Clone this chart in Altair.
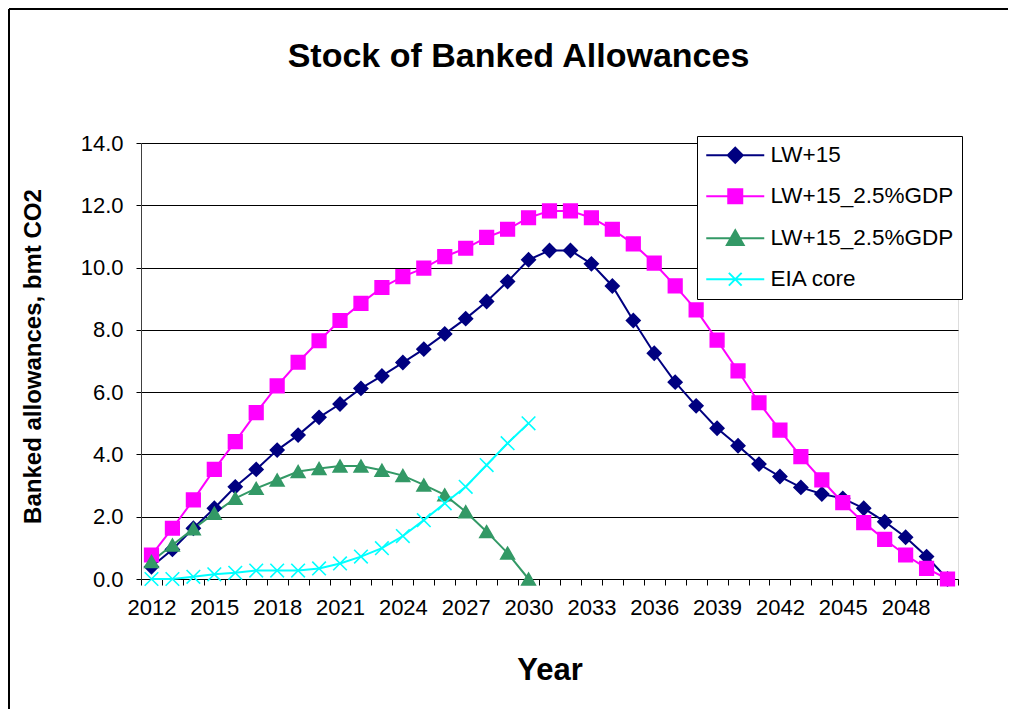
import altair as alt
import pandas as pd

# ---------------- data ----------------
years = list(range(2012, 2051))
series_keys = ["s1", "s2", "s3", "s4"]
series_labels = ["LW+15", "LW+15_2.5%GDP", "LW+15_2.5%GDP", "EIA core"]
series_colors = ["#000080", "#FF00FF", "#339966", "#00FFFF"]

lw15 = [0.39, 0.95, 1.63, 2.27, 2.96, 3.52, 4.14, 4.62, 5.19, 5.62,
        6.12, 6.52, 6.95, 7.38, 7.87, 8.36, 8.91, 9.55, 10.25, 10.55,
        10.55, 10.12, 9.41, 8.30, 7.25, 6.32, 5.56, 4.84, 4.28, 3.69,
        3.29, 2.94, 2.73, 2.59, 2.27, 1.84, 1.34, 0.72, 0.0]
lw15_gdp = [0.77, 1.63, 2.54, 3.52, 4.41, 5.34, 6.20, 6.96, 7.65, 8.30,
            8.85, 9.36, 9.71, 9.98, 10.35, 10.62, 10.97, 11.23, 11.60, 11.82,
            11.82, 11.60, 11.23, 10.76, 10.14, 9.41, 8.64, 7.67, 6.68, 5.66,
            4.78, 3.93, 3.18, 2.45, 1.81, 1.27, 0.77, 0.34, 0.0]
lw15_gdp_b = [0.56, 1.09, 1.61, 2.11, 2.59, 2.91, 3.18, 3.45, 3.55, 3.63,
              3.63, 3.49, 3.32, 3.02, 2.70, 2.16, 1.52, 0.83, 0.0]
eia_core = [0.0, 0.0, 0.07, 0.15, 0.20, 0.27, 0.27, 0.27, 0.34, 0.50,
            0.72, 0.99, 1.38, 1.89, 2.43, 2.96, 3.66, 4.36, 5.0]

y_ticks = [0, 2, 4, 6, 8, 10, 12, 14]

rows = []
for key, vals in zip(series_keys, [lw15, lw15_gdp, lw15_gdp_b, eia_core]):
    for yr, v in zip(years, vals):
        rows.append({"year": str(yr), "series": key, "value": v})
df = pd.DataFrame(rows)

FONT = "Liberation Sans"

# chart markers and legend symbols (line + marker)
marker_shapes = ["diamond", "square", "triangle-up", "M-1,-1L1,1M-1,1L1,-1"]
legend_shapes = [
    "M-2.9,0H2.9M0,-0.75L0.75,0L0,0.75L-0.75,0Z",
    "M-2.9,0H2.9M-0.7,-0.7H0.7V0.7H-0.7Z",
    "M-2.9,0H2.9M0,-0.8L0.84,0.67H-0.84Z",
    "M-2.9,0H2.9M-0.64,-0.64L0.64,0.64M-0.64,0.64L0.64,-0.64",
]

label_expr = " : ".join(
    f"datum.label == '{k}' ? '{l}'" for k, l in zip(series_keys, series_labels)
) + " : datum.label"

x_enc = alt.X(
    "year:O",
    scale=alt.Scale(type="band", domain=[str(y) for y in years],
                    paddingInner=0, paddingOuter=0),
    axis=alt.Axis(
        tickBand="extent", labelAngle=0, labelOverlap=False,
        labelExpr="(toNumber(datum.value) - 2012) % 3 == 0 ? datum.value : ''",
        labelFont=FONT, labelFontSize=22, labelColor="black", labelPadding=12,
        tickSize=6, tickColor="black", domainColor="black", grid=False,
        title="Year", titleFont=FONT, titleFontSize=31, titleFontWeight="bold",
        titleColor="black", titleY=100, titleBaseline="alphabetic",
    ),
)
y_enc = alt.Y(
    "value:Q",
    scale=alt.Scale(domain=[0, 14], nice=False, zero=True),
    axis=alt.Axis(
        values=y_ticks, format=".1f", grid=True, gridColor="black", gridWidth=1,
        domainColor="#404040", tickColor="black", tickSize=5,
        labelFont=FONT, labelFontSize=22, labelColor="black", labelPadding=13,
        title="Banked allowances, bmt CO2", titleFont=FONT, titleFontSize=24,
        titleFontWeight="bold", titleColor="black", titleX=-96, titleY=213,
        titleAlign="center", titleBaseline="bottom",
    ),
)

color_scale = alt.Scale(domain=series_keys, range=series_colors)

base = alt.Chart(df)

lines = base.mark_line(strokeWidth=2).encode(
    x=x_enc, y=y_enc,
    color=alt.Color("series:N", scale=color_scale, legend=None),
    detail="series:N",
)

points = base.mark_point(filled=True, size=185, strokeWidth=1.6, opacity=1).encode(
    x=x_enc, y=y_enc,
    color=alt.Color("series:N", scale=color_scale, legend=None),
    stroke=alt.Stroke("series:N", scale=color_scale, legend=None),
    shape=alt.Shape("series:N", scale=alt.Scale(domain=series_keys, range=marker_shapes),
                    legend=None),
)

legend_def = alt.Legend(
    orient="none", legendX=556, legendY=-7, title=None,
    labelFont=FONT, labelFontSize=22.5, labelColor="black", labelLimit=400,
    labelExpr=label_expr, labelOffset=24, symbolOffset=19,
    symbolSize=400, symbolStrokeWidth=2,
    padding=8, rowPadding=18,
    strokeColor="black", fillColor="white",
)

legend_layer = base.transform_filter("false").mark_point(
    filled=True, size=400, strokeWidth=2, opacity=1
).encode(
    x=x_enc, y=y_enc,
    color=alt.Color("series:N", scale=color_scale, legend=legend_def),
    stroke=alt.Stroke("series:N", scale=color_scale, legend=legend_def),
    shape=alt.Shape("series:N", scale=alt.Scale(domain=series_keys, range=legend_shapes),
                    legend=legend_def),
)

frame_data = alt.Data(values=[{"k": 0}])
frame_left = alt.Chart(frame_data).mark_rule(color="black", strokeWidth=2).encode(
    x=alt.value(-132), y=alt.value(-134), y2=alt.value(800)
)
frame_top = alt.Chart(frame_data).mark_rule(color="black", strokeWidth=2).encode(
    x=alt.value(-132), x2=alt.value(1000), y=alt.value(-134)
)

chart = alt.layer(frame_left, frame_top, lines, points, legend_layer).resolve_scale(
    color="independent", stroke="independent", shape="independent"
).properties(
    width=817, height=436,
    autosize=alt.AutoSizeParams(type="none"),
    padding={"left": 133, "top": 135, "right": 50, "bottom": 130},
    title=alt.TitleParams(
        text="Stock of Banked Allowances", font=FONT, fontSize=34,
        fontWeight="bold", color="black", anchor="middle", frame="group",
        dx=-31, dy=93, offset=0, baseline="alphabetic",
    ),
).configure_view(stroke="#808080", strokeWidth=1.5).configure(background="white")

chart.save("out.html", embed_options={"renderer": "svg", "actions": False})
